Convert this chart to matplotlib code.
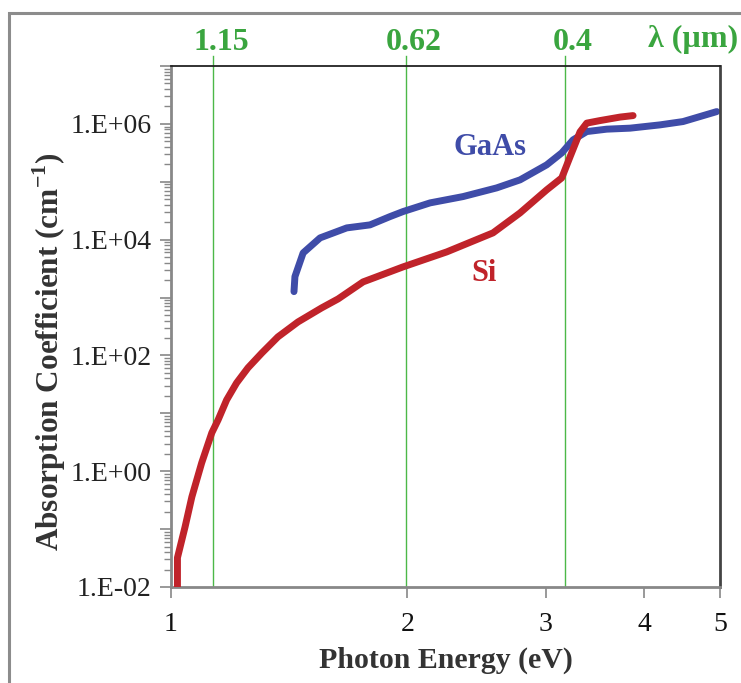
import matplotlib.pyplot as plt
import numpy as np
from matplotlib.patches import Rectangle
from matplotlib.ticker import FixedLocator, FuncFormatter, NullFormatter, LogLocator

# data
si_energia = [1.019, 1.019, 1.042, 1.063, 1.094, 1.127, 1.148, 1.177, 1.212, 1.253,
              1.305, 1.368, 1.451, 1.555, 1.632, 1.756, 1.974, 2.244, 2.570, 2.782,
              3.008, 3.144, 3.221, 3.317, 3.383, 3.517, 3.730, 3.875]
si_alfa = [0.01, 0.032, 0.109, 0.36, 1.39, 4.6, 7.7, 17, 33.5, 61,
           110, 209, 379, 662, 946, 1862, 3380, 6140, 13090, 28970,
           72400, 116700, 269000, 728000, 1.03e6, 1.14e6, 1.31e6, 1.39e6]

gaas_energia = [1.434, 1.438, 1.473, 1.548, 1.674, 1.792, 1.900, 1.974, 2.137, 2.354,
                2.598, 2.782, 3.008, 3.144, 3.250, 3.383, 3.587, 3.841, 4.194, 4.486, 4.952]
gaas_alfa = [1265, 2300, 5900, 10720, 15960, 17990, 25000, 30540, 43150, 55460,
             78340, 107800, 195800, 315500, 529400, 736000, 810000, 843000, 961000, 1.096e6, 1.63e6]

# linhas verdes (comprimento de onda)
lambda_energia = [1.13, 1.99, 3.17]
lambda_rotulos = ["1.15", "0.62", "0.4"]

xticks = [1, 2, 3, 4, 5]

plt.rcParams['font.family'] = ['Liberation Serif', 'DejaVu Serif']

fig = plt.figure(figsize=(7.41, 6.83), dpi=100)
ax = fig.add_axes([0.2308, 0.1406, 0.7409, 0.7628])

# moldura cinza externa
fig.add_artist(Rectangle((0.012, -0.5), 2.0, 0.5 + 0.981, transform=fig.transFigure,
                         fill=False, edgecolor='#8c8c8c', linewidth=2.2, clip_on=False))

verde = '#4cb848'
for e in lambda_energia:
    ax.axvline(e, color=verde, linewidth=1.0, zorder=1)
    ax.plot([e, e], [1e7, 10 ** 7.18], color=verde, linewidth=1.0, clip_on=False, zorder=1)

ax.plot(si_energia, si_alfa, color='#c0232a', linewidth=5, solid_capstyle='round', zorder=3)
ax.plot(gaas_energia, gaas_alfa, color='#3f4ca8', linewidth=5, solid_capstyle='round', zorder=2)

ax.set_xscale('log')
ax.set_yscale('log')
ax.set_xlim(1, 5)
ax.set_ylim(1e-2, 1e7)

ax.xaxis.set_major_locator(FixedLocator(xticks))
ax.xaxis.set_minor_locator(FixedLocator([]))
ax.xaxis.set_major_formatter(FuncFormatter(lambda v, p: "%d" % round(v)))
ax.xaxis.set_minor_formatter(NullFormatter())

ax.yaxis.set_major_locator(FixedLocator([10.0 ** k for k in range(-2, 8)]))
ax.yaxis.set_minor_locator(LogLocator(base=10, subs=np.arange(2, 10), numticks=20))


def fmt_y(v, p):
    k = int(round(np.log10(v)))
    if k % 2 != 0 or k > 6:
        return ""
    return "1.E%s%02d" % ("+" if k >= 0 else "-", abs(k))


ax.yaxis.set_major_formatter(FuncFormatter(fmt_y))
ax.yaxis.set_minor_formatter(NullFormatter())

ax.tick_params(axis='y', which='major', length=8, width=1.2, color='#888888', labelsize=20,
               pad=6, labelcolor='#222222')
ax.tick_params(axis='y', which='minor', length=5, width=1.0, color='#888888')
ax.tick_params(axis='x', which='major', length=8, width=1.2, color='#888888', labelsize=20,
               pad=10, labelcolor='#111111')

ax.spines['left'].set_color('#888888')
ax.spines['bottom'].set_color('#888888')
ax.spines['left'].set_linewidth(2)
ax.spines['bottom'].set_linewidth(2)
ax.spines['top'].set_color('#222222')
ax.spines['right'].set_color('#444444')
ax.spines['top'].set_linewidth(1.3)
ax.spines['right'].set_linewidth(2)

ax.set_xlabel("Photon Energy (eV)", fontsize=21.5, fontweight='bold', color='#333333', labelpad=7)
ax.set_ylabel("Absorption Coefficient (cm$^{\\mathregular{-1}}$)", fontsize=22.5,
              fontweight='bold', color='#333333')
ax.yaxis.set_label_coords(-0.187, 0.451)

for e, r in zip(lambda_energia, lambda_rotulos):
    ax.annotate(r, (e, 10 ** 7.4), xytext=(6, 0), textcoords='offset points',
                annotation_clip=False, color='#3aa53f', fontsize=23, ha='center',
                va='center', fontweight='bold')
ax.text(4.62, 10 ** 7.45, "λ (µm)", color='#3aa53f', fontsize=23, ha='center', va='center',
        fontweight='bold')

ax.text(2.55, 10 ** 5.6, "GaAs", color='#3f4ca8', fontsize=22, fontweight='bold',
        ha='center', va='center')
ax.text(2.50, 10 ** 3.42, "Si", color='#c0232a', fontsize=22, fontweight='bold',
        ha='center', va='center')

plt.savefig("out.png", dpi=100)
